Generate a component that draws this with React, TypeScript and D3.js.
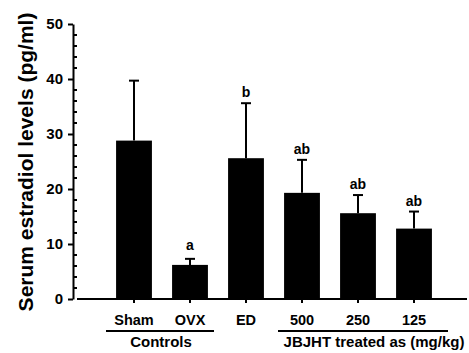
import { useEffect, useRef } from "react"
import * as d3 from "d3"

// Values (mean and upper SD)
const categories = ["Sham", "OVX", "ED", "500", "250", "125"]
const means = [28.8, 6.2, 25.6, 19.3, 15.6, 12.8]
const sd = [10.9, 1.1, 10.0, 6.0, 3.3, 3.1]
const letters = ["", "a", "b", "ab", "ab", "ab"]
const yTicks = [0, 10, 20, 30, 40, 50]
const groupLabels = ["Controls", "JBJHT treated as (mg/kg)"]
const groupMembers = [["Sham", "OVX"], ["500", "250", "125"]]

const W = 469
const H = 353
const FONT = "Arial, 'Liberation Sans', Helvetica, sans-serif"

export default function App() {
  const svgRef = useRef<SVGSVGElement>(null)

  useEffect(() => {
    if (!svgRef.current) return
    const svg = d3.select(svgRef.current)
    svg.selectAll("*").remove()

    const y = d3.scaleLinear().domain([0, 50]).range([299, 24])
    const x = d3
      .scaleBand<string>()
      .domain(categories)
      .range([106, 442])
      .paddingInner(0.36)
      .paddingOuter(0.18)
    const bw = x.bandwidth()
    const cx = (c: string) => (x(c) as number) + bw / 2

    // y axis: major ticks to the left, minor ticks to the right
    const axisX = 73
    const yAxis = svg
      .append("g")
      .attr("transform", `translate(${axisX},0)`)
      .call(d3.axisLeft(y).tickValues(yTicks).tickSize(5).tickSizeOuter(0).tickPadding(5))
    yAxis.select(".domain").attr("stroke", "#000").attr("stroke-width", 2)
    yAxis.selectAll(".tick line").attr("stroke", "#000").attr("stroke-width", 2)
    yAxis
      .selectAll(".tick text")
      .attr("fill", "#000")
      .attr("font-family", FONT)
      .attr("font-weight", "bold")
      .attr("font-size", 15)

    const minor = d3.range(0, 51, 2).filter((v) => v % 10 !== 0)
    svg
      .append("g")
      .selectAll("line")
      .data(minor)
      .enter()
      .append("line")
      .attr("x1", axisX)
      .attr("x2", axisX + 4)
      .attr("y1", (d) => y(d))
      .attr("y2", (d) => y(d))
      .attr("stroke", "#000")
      .attr("stroke-width", 2)

    // x baseline (offset from the y axis)
    svg
      .append("line")
      .attr("x1", axisX + 4)
      .attr("x2", 467)
      .attr("y1", y(0))
      .attr("y2", y(0))
      .attr("stroke", "#000")
      .attr("stroke-width", 2)

    // bars
    svg
      .append("g")
      .selectAll("rect")
      .data(categories)
      .enter()
      .append("rect")
      .attr("x", (d) => x(d) as number)
      .attr("width", bw)
      .attr("y", (_, i) => y(means[i]))
      .attr("height", (_, i) => y(0) - y(means[i]))
      .attr("fill", "#000")

    // error bars (upper only)
    const eb = svg.append("g").attr("stroke", "#000").attr("stroke-width", 2)
    categories.forEach((c, i) => {
      const top = y(means[i] + sd[i])
      eb.append("line")
        .attr("x1", cx(c))
        .attr("x2", cx(c))
        .attr("y1", y(means[i]))
        .attr("y2", top)
      eb.append("line")
        .attr("x1", cx(c) - 5)
        .attr("x2", cx(c) + 5)
        .attr("y1", top)
        .attr("y2", top)
    })

    // significance letters
    svg
      .append("g")
      .selectAll("text")
      .data(categories)
      .enter()
      .append("text")
      .attr("x", (d) => cx(d))
      .attr("y", (_, i) => y(means[i] + sd[i]) - (i === 1 ? 9 : 6))
      .attr("text-anchor", "middle")
      .attr("font-family", FONT)
      .attr("font-weight", "bold")
      .attr("font-size", 14)
      .attr("fill", "#000")
      .text((_, i) => letters[i])

    // small ticks under the bars
    svg
      .append("g")
      .selectAll("line")
      .data(categories)
      .enter()
      .append("line")
      .attr("x1", (d) => cx(d))
      .attr("x2", (d) => cx(d))
      .attr("y1", y(0))
      .attr("y2", y(0) + 4)
      .attr("stroke", "#000")
      .attr("stroke-width", 2)

    // category labels
    svg
      .append("g")
      .selectAll("text")
      .data(categories)
      .enter()
      .append("text")
      .attr("x", (d) => cx(d))
      .attr("y", 325)
      .attr("text-anchor", "middle")
      .attr("font-family", FONT)
      .attr("font-weight", "bold")
      .attr("font-size", 14.5)
      .attr("fill", "#000")
      .text((d) => d)

    // group brackets
    const padL = [28, 24]
    const padR = [24, 34]
    const labelShift = [1, 11]
    groupMembers.forEach((m, gi) => {
      const x1 = cx(m[0]) - padL[gi]
      const x2 = cx(m[m.length - 1]) + padR[gi]
      svg
        .append("line")
        .attr("x1", x1)
        .attr("x2", x2)
        .attr("y1", 331)
        .attr("y2", 331)
        .attr("stroke", "#000")
        .attr("stroke-width", 2)
      svg
        .append("text")
        .attr("x", (x1 + x2) / 2 + labelShift[gi])
        .attr("y", 347)
        .attr("text-anchor", "middle")
        .attr("font-family", FONT)
        .attr("font-weight", "bold")
        .attr("font-size", 15)
        .attr("fill", "#000")
        .text(groupLabels[gi])
    })

    // y title
    svg
      .append("text")
      .attr("transform", `translate(33,162) rotate(-90)`)
      .attr("text-anchor", "middle")
      .attr("font-family", FONT)
      .attr("font-weight", "bold")
      .attr("font-size", 21)
      .attr("fill", "#000")
      .text("Serum estradiol levels (pg/ml)")
  }, [])

  return (
    <svg
      ref={svgRef}
      width={W}
      height={H}
      style={{ position: "absolute", left: 0, top: 0, background: "#fff" }}
    />
  )
}
